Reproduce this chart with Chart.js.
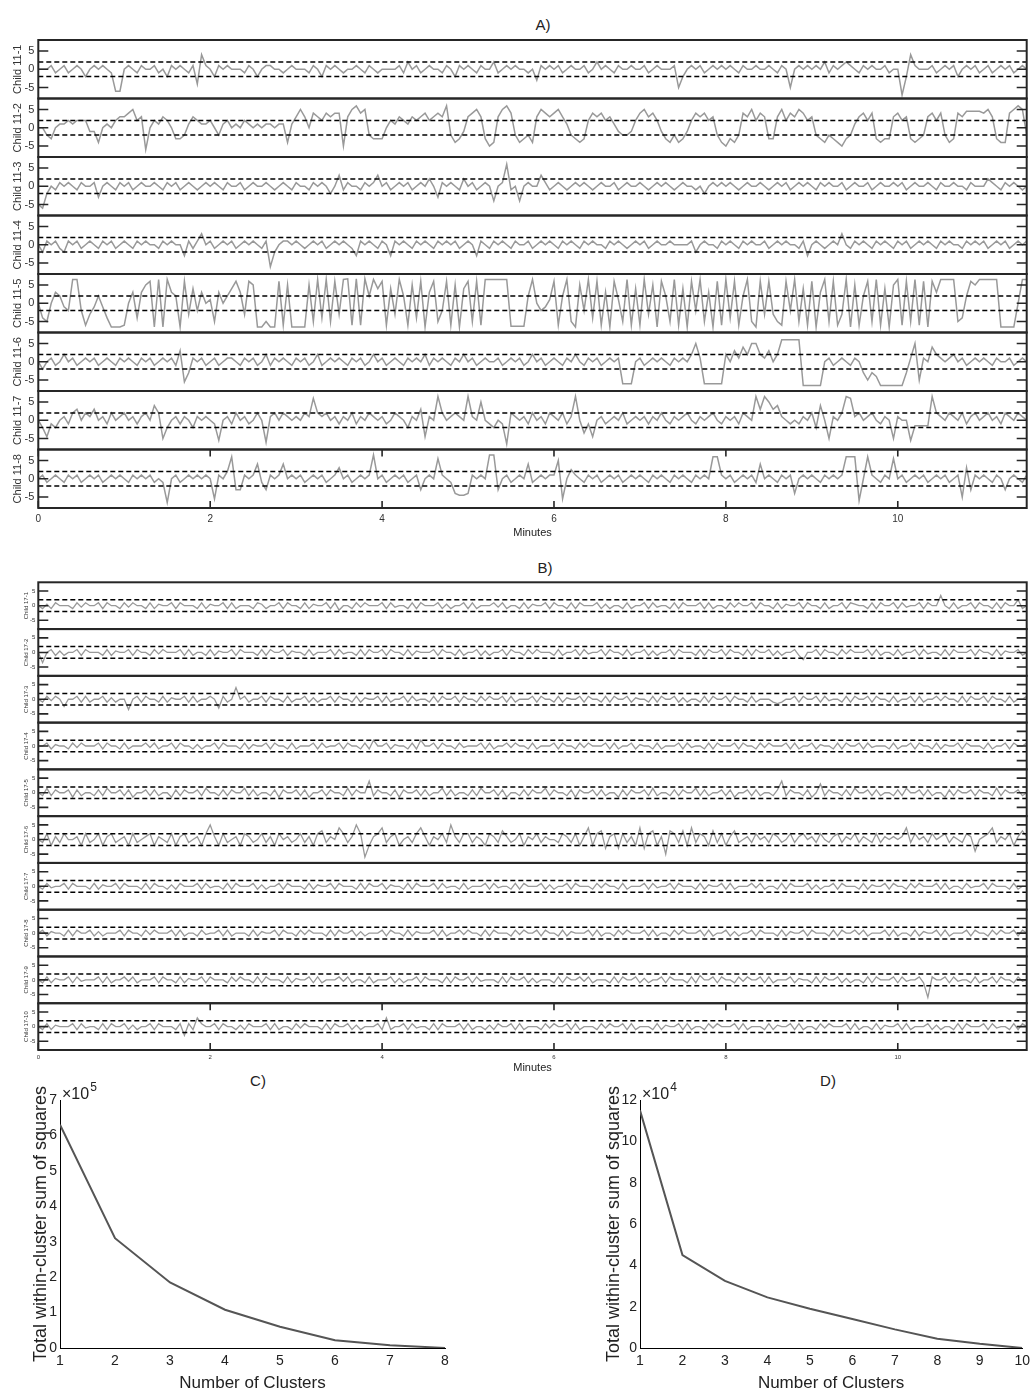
<!DOCTYPE html>
<html>
<head>
<meta charset="utf-8">
<script src="https://cdn.jsdelivr.net/npm/chart.js@4.4.1/dist/chart.umd.min.js"></script>
<style>
  body { margin: 0; background: #fff; }
  #page { position: relative; width: 1035px; height: 1388px; overflow: hidden; background: #fff; }
  #page canvas { position: absolute; }
  .ptitle { position: absolute; font: 15px "Liberation Sans", Arial, sans-serif; color: #222;
            transform: translate(-50%, -50%); white-space: nowrap; }
</style>
</head>
<body>
<div id="page">
  <div class="ptitle" style="left:543px;top:24px">A)</div>
  <div class="ptitle" style="left:545px;top:567px">B)</div>
  <div class="ptitle" style="left:258px;top:1080px">C)</div>
  <div class="ptitle" style="left:828px;top:1080px">D)</div>
</div>
<script>
// ---------- data ----------
const minutesMax = 11.5;
const xTicks = [0, 2, 4, 6, 8, 10];
const yTicks = [-5, 0, 5];
const thresholds = [2, -2];

const labelsA = ['Child 11-1', 'Child 11-2', 'Child 11-3', 'Child 11-4',
                 'Child 11-5', 'Child 11-6', 'Child 11-7', 'Child 11-8'];
const labelsB = ['Child 17-1', 'Child 17-2', 'Child 17-3', 'Child 17-4', 'Child 17-5',
                 'Child 17-6', 'Child 17-7', 'Child 17-8', 'Child 17-9', 'Child 17-10'];

// panel A: one value every 0.05 min
const child11_1 = [
  0,0,0,1,-1,0,1,-1,0,1,0,-2,0,1,0,1,0,-1,-6,-6,
  0,1,0,-1,1,0,0,1,-1,0,-2,1,0,1,0,-1,1,-4,4,1,
  0,-2,1,0,1,0,0,0,-1,1,0,-2,0,1,1,0,0,-1,0,1,
  0,0,0,-1,1,0,-2,1,0,1,0,-1,0,0,1,0,-1,1,0,-1,
  0,0,0,0,1,-1,2,0,1,-1,0,1,0,0,-1,1,0,-2,1,0,
  1,0,-1,1,0,0,2,-1,0,1,0,1,0,0,-1,0,-3,1,0,1,
  0,1,-1,0,1,0,0,1,-1,0,2,0,1,0,-1,1,0,0,1,0,
  0,1,-1,0,1,0,0,0,1,-5,-2,0,1,0,1,-1,0,1,0,1,
  0,1,0,-1,1,0,0,1,0,0,1,0,-1,1,0,-5,0,1,0,1,
  0,1,0,2,-1,1,0,1,2,1,0,-1,1,0,1,0,0,1,-1,0,
  0,-7,-2,4,1,0,0,0,1,-1,0,1,0,1,-2,0,1,0,1,-1,
  0,1,-1,0,1,0,1,-1,0,1,0];
const child11_2 = [
  0,0,-2,-3,0,1,1,2,1,2,2,2,-1,-1,-4,0,1,0,2,3,
  3,4,5,2,3,-6,0,2,1,3,2,0,-3,-3,-2,1,3,2,1,1,
  2,0,-2,1,2,0,1,0,2,1,0,1,0,1,1,0,1,1,-4,1,
  3,5,3,0,4,3,2,4,3,4,4,-5,3,5,6,4,5,-2,-3,-3,
  -3,0,2,1,3,2,1,3,2,3,4,2,3,4,3,6,-2,-4,-3,-1,
  3,4,5,3,-3,-5,-4,3,5,6,4,-2,-4,-3,-2,-4,3,5,4,3,
  4,5,3,1,-2,-3,-4,-3,2,4,3,4,2,3,1,-1,-2,-2,-1,2,
  4,5,3,4,2,-1,-3,-4,-2,-4,-3,-1,2,4,3,4,2,3,-2,-4,
  -5,-3,-4,-2,4,3,5,2,4,3,-3,-3,3,5,2,4,3,5,4,2,
  3,-2,-3,-4,-2,-3,-4,-5,-3,-2,1,3,4,2,4,-3,-4,-3,-3,3,
  4,2,3,-3,-4,-3,-2,3,4,2,4,-2,-4,-3,4,3,4.5,4.5,4.5,4.5,
  4,5,3,-3,-4,-4,4,5,6,5,-2];
const child11_3 = [
  -5,-6,-2,0,-1,1,0,1,0,-1,1,0,0,1,-3,0,1,0,-1,1,
  0,1,-1,0,1,0,0,1,0,-1,1,0,1,-1,0,1,0,-1,0,1,
  0,1,0,-1,1,0,0,1,-1,0,1,0,0,1,0,-1,0,1,0,-1,
  1,0,0,-1,1,0,1,0,-2,0,3,-1,1,0,0,-1,1,0,1,3,
  0,1,-1,0,1,0,1,-1,0,1,0,2,0,-3,1,0,1,0,-1,2,
  0,1,-1,0,1,0,-4,0,1,6,-1,0,-4,0,1,0,0,3,1,-1,
  0,1,0,-1,0,1,0,1,0,-1,0,1,0,0,1,-1,0,1,0,0,
  1,0,-1,0,1,0,1,0,-1,0,1,0,0,-1,0,-2,0,1,0,1,
  0,1,0,-1,0,1,0,0,1,0,-1,0,1,0,1,-1,0,1,0,1,
  0,-1,1,0,1,0,0,1,-1,0,1,0,0,1,-1,0,1,0,0,1,
  0,1,-1,0,1,0,0,1,0,-1,1,0,0,1,0,0,-1,1,0,0,
  0,2,1,0,-1,1,0,1,0,-1,0];
const child11_4 = [
  0,-2,1,0,1,-1,-2,1,0,1,-1,0,1,0,-1,1,0,1,-1,0,
  1,0,-1,1,0,1,0,0,-1,1,0,1,0,0,-3,1,-1,1,3,0,
  1,-1,0,1,0,1,-1,0,1,0,1,0,-1,1,-6,-2,0,1,1,0,
  1,0,-1,0,1,0,1,-1,0,1,0,1,0,-1,-3,1,0,1,0,-1,
  1,0,-3,1,0,1,0,-1,1,0,1,0,-1,1,0,1,0,1,-1,0,
  1,0,-3,1,0,-1,1,0,1,0,-1,1,0,0,1,-1,0,1,0,1,
  0,-1,1,0,1,0,-1,1,0,1,0,0,-1,1,0,1,0,-1,0,1,
  0,1,-1,0,1,0,0,1,0,0,0,0,1,-2,0,1,0,0,-1,1,
  0,1,0,-1,1,0,1,0,0,1,-1,0,1,0,1,0,0,-1,1,-3,
  0,1,0,-1,0,1,0,3,0,-1,1,0,1,0,-1,1,0,1,0,-1,
  1,0,1,-1,0,1,0,1,0,-1,1,0,1,0,0,-1,1,0,1,0,
  1,-1,0,1,0,1,-1,0,1,0,1];
const child11_5 = [
  0,-4,-5,0,3,2,-1,-2,6.5,6.5,-2,-6,-3,-1,2,-1,-4,-6.5,-6.5,-6.5,
  -6,0,3,-4,3,5,6,-6.5,6.5,-6.5,6.5,3,2,-6.5,6,-3,4,-2,3,0,
  1,-5,3,0,2,4,6,3,-3,6,5,-6.5,-6.5,-5,-6.5,-6.5,6,-6,5,-6.5,
  -6.5,-6.5,-6.5,5,-5,6.5,-4,6.5,-5,6,-3,6.5,6.7,-6,6.7,-6,6.7,2,6.5,4,
  6,-6,4,-3,6.5,2,-6,5,-4,6,-6.5,3,6,-5,-2,6,-6,5,-6.5,4,
  6,-5,6,-6,6.5,6.5,6.5,6.5,6.5,6.5,-6.3,-6.3,-6.3,-6.3,2,6.5,0,-2,-1,1,
  6,-6,2,6.5,-5,-6.5,5,-2,6.5,-4,6,-6,3,-6.5,6,1,-5,6.5,-6,4,
  -6,6.5,-3,5,-6.5,6,2,-5,6.5,-6,4,-6.5,6,-2,6.5,-5,3,-6.5,6,-6,
  6.5,-4,6,-6,2,6.5,-5,-6.5,6,-3,6,-3,-5,-6,6,-2,6.5,-5,4,-6,
  6,-6.5,3,6.5,-5,6,-6,-3,6.5,-6.5,5,-6,2,6,-5,6.5,-6,4,-6.5,5,
  6.5,-6,6,-5,6.5,-6,6,-6.5,6,3,6.5,6.5,6.5,6.5,-5,-4,2,6,5,6.5,
  6.5,6.5,6.5,6.5,-6.5,-6.5,-6.5,-6.5,0,6.5,6.5];
const child11_6 = [
  0,-2,0,1,-1,0,2,0,1,-1,0,1,0,1,-1,0,1,0,-1,1,
  0,1,0,-1,1,0,1,-1,0,1,0,1,-1,3,-5.5,-3,1,0,1,-1,
  0,1,-1,0,1,1,0,-1,1,0,1,-1,0,2,-1,1,0,1,0,-1,
  1,0,1,-1,0,2,-1,0,1,0,1,0,-1,1,0,1,-1,0,2,0,
  1,-1,0,1,0,-1,1,0,1,0,2,-1,1,0,1,0,-1,1,0,2,
  0,1,-1,0,1,0,0,1,-1,0,1,0,1,-1,0,2,0,1,-1,0,
  1,0,-1,1,0,2,0,-1,1,0,1,-1,0,1,0,1,-6,-6,-6,0,
  1,-1,0,1,0,1,0,-1,1,0,1,0,2,5,1,-6,-6,-6,-6,-6,
  2,0,3,1,4,2,5,5,2,1,3,0,2,6,6,6,6,6,-6.5,-6.5,
  -6.5,-6.5,-6.5,0,1,-1,0,1,0,-1,1,0,-3,-5,-3,-4,-6.5,-6.5,-6.5,-6.5,
  -6.5,-6.5,-3,1,5,-5,1,0,4,2,1,0,1,2,0,1,-1,0,1,0,
  1,0,-1,1,0,0,1,-1,0,1,0];
const child11_7 = [
  0,-2,-4.5,-1,-2,0,1,-1,2,3,0,2,1,3,0,1,-1,2,0,1,
  2,0,1,-1,1,2,0,4,2,-5,-2,0,1,-1,1,0,-2,1,0,1,
  0,-1,-5.5,0,1,-1,2,0,1,-1,0,2,0,-6,1,2,0,2,1,0,
  1,0,2,1,6,2,1,2,0,1,-1,1,0,2,-1,1,0,2,1,0,
  1,-1,0,2,1,0,-2,1,0,3,-4.5,1,0,6.5,2,0,1,2,1,0,
  6.5,1,0,5,0,-1,-2,0,-1,-6.5,2,1,0,1,-1,2,0,1,-1,2,
  1,0,2,-1,1,6.5,0,-3.5,-1,-4.5,0,1,-1,0,1,0,2,-1,0,1,
  0,1,-1,1,0,2,0,-1,1,0,1,2,0,-1,1,0,1,2,0,-1,
  1,0,1,-1,2,1,0,6.5,3,6.5,5,3,4,1,0,-1,0,-1,1,0,
  2,-2,4,0,-5,1,0,2,6.5,6,1,2,0,1,2,0,-1,1,0,-5,
  1,0,0,-5.5,-1.5,-1.5,-1.5,-1.5,6.5,2,1,0,2,1,0,2,-1,1,2,0,
  1,2,0,1,-1,2,1,0,2,1,0];
const child11_8 = [
  0,1,-1,0,1,0,-1,1,0,1,-1,0,1,0,1,-1,0,1,0,1,
  0,-1,1,0,1,0,1,-1,0,-1,-6.5,0,1,-1,0,1,0,1,0,1,
  0,-5.5,1,0,2,6,-3,-3,1,0,1,4,-1,-3,1,0,1,4,0,1,
  0,1,-1,0,1,0,1,-1,0,1,3,0,1,-1,0,1,0,1,6.5,0,
  1,-1,0,1,0,1,-1,0,1,-3,0,1,0,5.5,1,0,-1,-4,-4.5,-4.5,
  -4,1,0,1,0,6.5,6.5,-3,0,1,-1,0,1,0,4,-1,0,1,0,1,
  1,5,-5.5,0,2.5,1,0,-1,1,0,1,-1,0,1,0,1,-1,0,1,0,
  1,0,-1,1,0,1,0,-1,1,0,1,0,-1,1,0,1,0,6,6,1,
  0,1,-1,0,1,0,1,-1,4,0,1,0,-1,1,0,1,-4,0,1,0,
  1,0,-1,1,0,1,0,1,6,6,6,-6,0,6,1,0,-1,1,0,5.5,
  0,1,-1,0,1,0,1,-1,0,1,0,1,-1,0,1,-5,3,-3,1,0,
  1,0,-1,1,0,-3,0,1,0,-1,1];

// panel B: one value every 0.05 min
const child17_1 = [
  0,-1,0.5,-1,1,0,0,0,-1,1,-0.5,1,0,0,1,-1,1,0,0,-1,
  1,-0.5,1,0,0,-1,1,-1,0.5,0,0,1,-1,1,0,0,0,-1,1,-1,
  0.5,0,0,1,-1,1,-1,0,0,0,-1,1,0.5,-1,0,0,1,-1,1,0,
  0,-1,1,-1,0.5,0,0,1,-1,1,-1.5,0,0,-1,1,-0.5,1,0,0,0,
  1,-1,1,-0.5,0,0,-1,1,-1,1,0,0,0,1,-1,0.5,-1,0,0,1,
  -1,1,-1,0,0,0,1,-0.5,1,-1,0,0,-1,1,-1,0.5,0,0,1,-1,
  1,0,0,-1,1,-1,1,0,0,0,1,-1,0.5,-1,0,0,-1,1,-1,0,
  0,1,-1,1,-0.5,0,0,-1,1,-1,1,0,0,0,1,-1,1,-1,0,0,
  -1,1,-0.5,1,0,0,1,-1,1,0,0,-1,1,-1,0.5,0,0,1,-1,1,
  0,0,-1,1,-1,0,0,1,-1,1,0.5,0,0,-1,1,-1,1,0,0,1,
  -1,1,-0.5,0,0,1,-1,1,0,0,3.5,0,-1,1,-1,0,0,1,-1,1,
  0,0,-1,1,-1,1,0,0,2,-1,0];
const child17_2 = [
  0,-3.5,0,1,-1,0.5,-1,0,0,1,-1,1,0,0,0,-1,1,-1,0.5,0,
  0,1,-1,1,0,0,-1,1,-0.5,1,0,0,0,1,-1,1,-1,0,0,-1,
  1,-1,0.5,0,0,1,-1,1,0,0,0,-1,1,-1,1,0,0,1,-1,0.5,
  0,0,-1,1,-1,0,0,0,1,-1,1,-0.5,0,0,-1,1,-1,1,0,0,
  1,-1,1,0,0,-1,1,-1,0.5,0,0,0,1,-1,1,0,0,-1,1,-1,
  0,0,1,-1,0.5,-1,0,0,1,-1,1,0,0,-1,1,-0.5,1,0,0,0,
  -1,1,-1,0,0,1,-1,1,-0.5,0,0,1,-1,1,0,0,-1,1,-1,0,
  0,1,-1,0.5,-1,0,0,1,-1,1,0,0,0,-1,1,-1,1,0,0,1,
  -1,1,0,0,-1,1,-1,1,0,0,1,-1,0.5,-1,0,0,1,-1,-2.5,0,
  0,1,-1,1,0,0,-1,1,-0.5,1,0,0,0,1,-1,1,-1,0,0,-1,
  1,-1,0,0,1,-1,1,-0.5,0,0,-1,1,-1,1,0,0,0,1,-1,1,
  0,0,-1,1,-1,0.5,0,0,1,-1,0];
const child17_3 = [
  0,-1,1,-0.5,1,0,-2.5,0,0,1,-1,1,-1,0,0,1,-1,0.5,-1,0,
  0,-3.5,0,1,-1,1,0,0,-1,1,-1,0.5,0,0,1,-1,1,-1,0,0,
  1,0,-3,1,-1,0,4,0,1,-1,0,0,1,-1,1,0,0,-1,1,-1,
  0,0,1,-1,0.5,-1,0,0,1,-1,1,0,0,-1,1,-1,0.5,0,0,1,
  -1,1,-1,0,0,1,-1,1,-0.5,0,0,-1,1,-1,1,0,0,1,-1,1,
  0,0,-1,1,-0.5,1,0,0,1,-1,1,-1,0,0,0,1,-1,1,0,0,
  -1,1,-1,0.5,0,0,1,-1,1,0,0,-1,1,-1,1,0,0,1,-1,0.5,
  0,0,-1,1,-1,1,0,0,1,-1,0.5,-1,0,0,-1,1,-1,1,0,0,
  1,-1,1,0,0,-1,1,-1,0,0,0,-1,-1.5,-1,0,0,1,-1,1,0,
  0,1,-1,1,-0.5,0,0,-1,1,-1,1,0,0,1,-1,1,0,0,-1,1,
  -1,0,0,1,-1,1,-1,0,0,1,-0.5,1,0,0,-1,1,-1,1,0,0,
  1,-1,1,0,0,-1,1,-1,0,0,1];
const child17_4 = [
  0,0,1,-1,0.5,0,0,-1,1,-0.5,1,0,0,0,1,-1,1,0,0,-1,
  1,-1,0,0,0,1,-0.5,1,-1,0,0,1,-1,1,0,0,-1,0.5,-1,0,
  0,1,-1,1,0,0,0,-1,1,-1,0.5,0,0,1,-1,1,0,0,-1,1,
  -1,0,0,0,1,-1,1,-0.5,0,0,1,-1,1,0,0,-1,1,-1,2,0,
  0,1,-1,0.5,0,0,-1,1,-1,2,0,0,1,-1,1,0,0,-1,1,-0.5,
  0,0,0,1,-1,1,-1,0,0,1,-0.5,1,0,0,-1,1,-1,0,0,0,
  1,-1,1,0,0,-1,1,-0.5,1,0,0,0,1,-1,1,-1,0,0,1,-1,
  0.5,0,0,-1,1,-1,0,0,0,1,-1,1,-0.5,0,0,-1,1,-1,1,0,
  0,0,1,-1,1,0,0,-1,1,-0.5,1,0,0,0,1,-1,1,-1,0,0,
  1,-1,0.5,0,0,-1,1,-1,1,0,0,1,-1,1,-0.5,0,0,0,-1,1,
  -1,0,0,1,-1,1,0,0,-1,1,-1,0.5,0,0,1,-1,1,0,0,0,
  -1,1,-1,0,0,1,-1,1,0,0,1];
const child17_5 = [
  0,-1,1.5,-1,1,0,0,1,-1.5,1,-1,0,0,-1,1,-1,1.5,0,0,1,
  -1,1,-1.5,0,0,1,-1,1,-1,0,0,-1.5,1,-1,1,0,0,1,-1,1.5,
  0,0,-1,1,-1,1,0,0,1.5,-1,1,-1,0,0,-1,1,-1.5,1,0,0,
  1,-1,1,-1.5,0,0,1,-1,1,0,0,-1,1.5,-1,1,0,0,4,-1,1,
  0,0,-1,1,-1.5,1,0,0,1,-1,1,-1,0,0,1.5,-1,1,-1,0,0,
  -1,1,-1,1.5,0,0,1,-1,1,-1.5,0,0,-1,1,-1,1,0,0,1.5,-1,
  1,0,0,-1,1,-1.5,1,0,0,1,-1,1,-1,0,0,-1.5,1,-1,1,0,
  0,1,-1,1.5,-1,0,0,-1,1,-1,1,0,0,1.5,-1,1,-1,0,0,1,
  -1,1,-1.5,0,0,1,-1,1,-1,0,0,-1,1,4,-1,1,0,0,-1,1,
  -1.5,0,3,-1,1,0,0,-1,1,-1,1.5,0,0,1,-1,1,-1,0,0,-1,
  1,-1,1.5,0,0,1,-1,1,-1,0,0,-1.5,1,-1,1,0,0,1,-1,1,
  0,0,-1,1.5,-1,1,0,0,1,-1,0];
const child17_6 = [
  0,-1,2,-2,1,-1,2,0,0,1,-2,2,-1,0,2,-2,1,2,-1,0,
  1,-2,2,-1,0,1,2,-2,1,0,-1,2,-2,1,2,-1,0,1,-2,2,
  5,1,-2,2,-1,0,1,-2,2,1,-1,0,2,-1,1,-2,2,0,1,-1,
  0,2,-1,1,-2,2,3,-1,1,0,4,2,-1,1,5,2,-6,-2,1,2,
  4,-1,1,2,-2,0,1,-1,2,4,1,-2,1,0,2,-1,5,1,-1,2,
  2,-1,1,0,-2,2,1,-1,3,1,-1,0,2,-2,1,0,2,-1,1,0,
  0,-1,2,1,-1,2,-2,1,4,-2,2,3,-3,1,2,-3,2,-1,1,-2,
  4,-3,2,3,-2,1,-5,3,2,-1,3,-2,4,-1,2,1,-2,3,-1,2,
  -2,1,3,-1,0,1,-1,2,0,1,-1,2,1,-1,0,2,-1,1,2,0,
  1,-1,2,0,-1,1,2,-1,1,0,2,-1,1,0,-1,2,-1,1,0,1,
  0,1,4,-1,2,0,1,-1,2,0,1,2,-1,1,0,-1,2,1,-4,0,
  1,2,4,-1,1,0,2,-2,1,3,1];
const child17_7 = [
  0,-1,1,-0.5,0,0,1,-1,1,0,0,0,-1,1,-1,0.5,0,0,1,-1,
  1,0,0,0,-1,1,-1,1,0,0,-1,0.5,-1,1,0,0,0,1,-1,1,
  -0.5,0,0,-1,1,-1,1,0,0,0,1,-1,0.5,-1,0,0,1,-1,1,0,
  0,0,-1,1,-1,0.5,0,0,1,-1,1,0,0,0,-1,1,-1,1,0,0,
  1,-1,0.5,0,0,-1,1,-1,1,0,0,0,1,-1,1,-0.5,0,0,-1,1,
  -1,0,0,0,1,-1,1,-0.5,0,0,-1,1,-1,1,0,0,0,1,-1,0.5,
  -1,0,0,1,-1,1,0,0,0,-1,1,-0.5,1,0,0,-1,1,-1,0,0,
  0,1,-1,1,-0.5,0,0,1,-1,1,0,0,0,-1,1,-1,0.5,0,0,1,
  -1,1,-1,0,0,0,1,-0.5,1,-1,0,0,-1,1,-1,1,0,0,0,1,
  -1,0.5,-1,0,0,1,-1,1,0,0,0,-1,1,-1,0.5,0,0,1,-1,1,
  0,0,-1,1,-0.5,1,0,0,0,1,-1,1,-1,0,0,-1,1,-0.5,0,0,
  1,-1,1,0,0,0,-1,1,-1,0,0];
const child17_8 = [
  0,1,-1,0.5,0,0,-1,1,-1,1,0,0,1,-1,0.5,-1,0,0,0,1,
  -1,1,0,0,-1,1,-0.5,1,0,0,0,1,-1,1,-1,0,0,-1,1,-0.5,
  0,0,1,-1,1,-1,0,0,0,-1,1,-1,0.5,0,0,1,-1,1,0,0,
  -1,1,-0.5,1,0,0,0,-1,1,-1,1,0,0,1,-1,0.5,-1,0,0,0,
  1,-1,1,0,0,-1,1,-1,0.5,0,0,0,1,-1,1,-1,0,0,1,-0.5,
  1,0,0,-1,1,-1,1,0,0,0,-1,1,-0.5,1,0,0,1,-1,1,0,
  0,-1,1,-1,0.5,0,0,0,1,-1,1,-1,0,0,-1,1,-0.5,1,0,0,
  0,1,-1,1,-1,0,0,-1,1,-0.5,1,0,0,0,1,-1,1,-1,0,0,
  1,-1,0.5,-1,0,0,1,-1,1,0,0,0,-1,1,-1,0.5,0,0,1,-1,
  1,0,0,0,-1,1,-1,1,0,0,1,-0.5,1,-1,0,0,0,1,-1,1,
  -1,0,0,-1,1,-1,0.5,0,0,1,-1,1,-1,0,0,0,1,-1,1,0,
  0,-1,1,-0.5,1,0,0,1,-1,1,0];
const child17_9 = [
  0,-1,1,-1,0.5,0,0,1,-1,1,-0.5,0,0,0,1,-1,1,-1,0,0,
  1,-0.5,1,-1,0,0,0,1,-1,1,0,0,-1,1,-1,0.5,0,0,1,-1,
  1,0,0,0,-1,1,-0.5,1,0,0,-1,1,-1,1,0,0,0,-1,1,-1,
  0.5,0,0,1,-1,1,-1,0,0,0,1,-0.5,1,-1,0,0,-1,1,-1,0,
  0,0,1,-1,0.5,-1,0,0,1,-1,1,0,0,0,-1,1,-1,1,0,0,
  1,-1,1,-0.5,0,0,0,-1,1,-1,1,0,0,1,-1,0.5,-1,0,0,0,
  -1,1,-1,1,0,0,1,-0.5,1,-1,0,0,0,-1,1,-1,1,0,0,1,
  -1,0.5,-1,0,0,1,-1,1,0,0,0,-1,1,-1,1.5,0,0,1,-1,1,
  0,0,-1,1,-0.5,1,0,0,1,-1,1,-1,0,0,0,1,-1,0.5,0,0,
  -1,1,-1,1,0,0,1,-1,0.5,-1,0,0,-1,1,-1,1,0,0,0,1,
  -1,1,-0.5,0,0,1,-1,-6,1,0,0,1,-1,1,-0.5,0,0,-1,1,-1,
  0,0,1,-1,1,0,0,-1,1,-0.5,0];
const child17_10 = [
  0,-1,1,-1,0.5,0,0,0,1,-1,1,-0.5,0,0,-1,1,-1,1,0,0,
  1,-1,0.5,-1,0,0,1,-1,1,0,0,0,-1,1,-3,1,-1,3,1,0,
  0,1,-1,1,0,0,-1,0.5,-1,1,0,0,0,1,-1,1,-1,0,0,-1,
  1,-0.5,1,0,0,0,-1,1,-1,1,0,0,1,-1,0.5,-1,0,0,0,1,
  -1,3,-1,0,0,1,-1,1,-0.5,0,0,-1,1,-1,1,0,0,0,1,-1,
  1,-1,0,0,-1,0.5,-1,1,0,0,1,-1,1,-1,0,0,0,-1,1,-0.5,
  1,0,0,1,-1,1,-1,0,0,0,-1,1,-0.5,1,0,0,1,-1,1,-1,
  0,0,0,-1,1,-1,0.5,0,0,1,-1,1,-1,0,0,-1,1,-0.5,1,0,
  0,0,1,-1,1,-1,0,0,0,-1,1,-1,0.5,0,0,1,-1,1,-1,0,
  0,-1,1,-0.5,1,0,0,0,1,-1,1,-1,0,0,-1,1,-1,0.5,0,0,
  1,-1,1,-1,0,0,0,1,-1,0.5,-1,0,0,-1,1,-1,1,0,0,0,
  1,-1,1,-0.5,0,0,-1,1,-1,1,0];

const seriesA = [child11_1, child11_2, child11_3, child11_4,
                 child11_5, child11_6, child11_7, child11_8];
const seriesB = [child17_1, child17_2, child17_3, child17_4, child17_5,
                 child17_6, child17_7, child17_8, child17_9, child17_10];

// panels C and D (elbow curves)
const clustersC = [1, 2, 3, 4, 5, 6, 7, 8];
const wcssC = [6.3, 3.1, 1.85, 1.08, 0.6, 0.22, 0.08, 0];          // x 10^5
const yTicksC = [0, 1, 2, 3, 4, 5, 6, 7];
const clustersD = [1, 2, 3, 4, 5, 6, 7, 8, 9, 10];
const wcssD = [11.5, 4.5, 3.25, 2.45, 1.9, 1.4, 0.9, 0.45, 0.2, 0]; // x 10^4
const yTicksD = [0, 2, 4, 6, 8, 10, 12];

// ---------- drawing ----------
Chart.defaults.font.family = '"Liberation Sans", Arial, sans-serif';
const page = document.getElementById('page');

function makeCanvas(left, top, w, h) {
  const c = document.createElement('canvas');
  c.width = w; c.height = h;
  c.style.left = left + 'px'; c.style.top = top + 'px';
  page.appendChild(c);
  return c;
}

// box round each strip plus the inward tick marks
const framePlugin = {
  id: 'frame',
  afterDraw(chart, args, o) {
    const {ctx, chartArea: a, scales} = chart;
    ctx.save();
    ctx.strokeStyle = '#262626';
    ctx.lineWidth = 1.6;
    ctx.beginPath();
    yTicks.forEach(v => {
      const y = scales.y.getPixelForValue(v);
      ctx.moveTo(a.left, y); ctx.lineTo(a.left + o.yLen, y);
      ctx.moveTo(a.right, y); ctx.lineTo(a.right - o.yLen, y);
    });
    if (o.xLen) {
      xTicks.forEach(v => {
        const x = scales.x.getPixelForValue(v);
        ctx.moveTo(x, a.top); ctx.lineTo(x, a.top + o.xLen);
        ctx.moveTo(x, a.bottom); ctx.lineTo(x, a.bottom - o.xLen);
      });
    }
    ctx.stroke();
    ctx.lineWidth = 2;
    ctx.strokeRect(a.left, a.top, a.right - a.left, a.bottom - a.top);
    ctx.restore();
  }
};

function addStrip(s) {
  const cTop = Math.floor(s.top) - 2;
  const cBottom = s.last ? s.axisBottom : Math.ceil(s.bottom) + 2;
  const canvas = makeCanvas(0, cTop, 1035, cBottom - cTop);
  const step = minutesMax / (s.values.length - 1);
  const points = s.values.map((v, i) => ({x: i * step, y: v}));
  const dashed = thresholds.map(t => ({
    data: [{x: 0, y: t}, {x: minutesMax, y: t}],
    borderColor: '#000', borderWidth: 1.5, borderDash: [5, 3], pointRadius: 0
  }));
  const xScale = {
    type: 'linear', min: 0, max: minutesMax, display: s.last,
    afterBuildTicks: ax => { ax.ticks = xTicks.map(v => ({value: v})); },
    grid: {display: false, drawTicks: false}, border: {display: false},
    ticks: {font: {size: s.xFont}, color: '#333', padding: s.xPad, maxRotation: 0},
    title: {display: true, text: 'Minutes', color: '#222', font: {size: 11},
            padding: {top: 0, bottom: s.titlePadBottom}}
  };
  if (s.last) xScale.afterFit = ax => { ax.height = cBottom - s.bottom; };
  new Chart(canvas, {
    type: 'line',
    data: {datasets: [...dashed, {
      data: points, borderColor: '#999', borderWidth: s.lw, pointRadius: 0
    }]},
    options: {
      responsive: false, animation: false, events: [],
      layout: {autoPadding: false,
               padding: {left: 0, right: 1035 - 1026.7,
                         top: s.top - cTop, bottom: s.last ? 0 : cBottom - s.bottom}},
      plugins: {legend: {display: false}, tooltip: {enabled: false},
                frame: {yLen: 10, xLen: s.last ? 7 : 0}},
      scales: {
        x: xScale,
        y: {
          min: -8, max: 8,
          afterBuildTicks: ax => { ax.ticks = yTicks.map(v => ({value: v})); },
          afterFit: ax => { ax.width = 38.3; ax.paddingTop = 0; ax.paddingBottom = 0; },
          grid: {display: false, drawTicks: false}, border: {display: false},
          ticks: {font: {size: s.yFont}, color: '#333', padding: s.yPad},
          title: {display: true, text: s.label, color: '#333', font: {size: s.yFont},
                  padding: {top: s.yTitlePad, bottom: 0}}
        }
      }
    },
    plugins: [framePlugin]
  });
}

// panel A
const topA = 40, rowA = 58.5;
seriesA.forEach((vals, i) => addStrip({
  values: vals, label: labelsA[i],
  top: topA + i * rowA, bottom: topA + (i + 1) * rowA,
  last: i === seriesA.length - 1, axisBottom: 550,
  lw: 1.5, xFont: 10, xPad: 5, titlePadBottom: 10.4,
  yFont: 11, yPad: 4, yTitlePad: 11.7
}));

// panel B
const topB = 582.3, rowB = 46.77;
seriesB.forEach((vals, i) => addStrip({
  values: vals, label: labelsB[i],
  top: topB + i * rowB, bottom: topB + (i + 1) * rowB,
  last: i === seriesB.length - 1, axisBottom: 1080,
  lw: 1.3, xFont: 6, xPad: 3.4, titlePadBottom: 5.4,
  yFont: 6, yPad: 3, yTitlePad: 23
}));

// scale factor label (x10^n) above the y axis
const exponentPlugin = {
  id: 'exponent',
  afterDraw(chart, args, o) {
    const {ctx, chartArea: a} = chart;
    ctx.save();
    ctx.fillStyle = '#222';
    ctx.textBaseline = 'alphabetic';
    ctx.font = '16px "Liberation Sans", Arial, sans-serif';
    ctx.fillText('\u00d710', a.left + 2, a.top - 1);
    const w = ctx.measureText('\u00d710').width;
    ctx.font = '12px "Liberation Sans", Arial, sans-serif';
    ctx.fillText(o.power, a.left + 3 + w, a.top - 9);
    ctx.restore();
  }
};

function addElbow(e) {
  const canvas = makeCanvas(e.left, 1070, e.width, 318);
  new Chart(canvas, {
    type: 'line',
    data: {datasets: [{
      data: e.clusters.map((c, i) => ({x: c, y: e.values[i]})),
      borderColor: '#555', borderWidth: 2, pointRadius: 0
    }]},
    options: {
      responsive: false, animation: false, events: [],
      layout: {autoPadding: false, padding: {left: 0, right: e.padRight, top: 30, bottom: 0}},
      plugins: {legend: {display: false}, tooltip: {enabled: false},
                exponent: {power: e.power}},
      scales: {
        x: {
          type: 'linear', min: e.clusters[0], max: e.clusters[e.clusters.length - 1],
          afterBuildTicks: ax => { ax.ticks = e.clusters.map(v => ({value: v})); },
          afterFit: ax => { ax.height = 40; },
          grid: {display: false, drawTicks: false},
          border: {display: true, color: '#000', width: 1},
          ticks: {font: {size: 14}, color: '#222', padding: 5, maxRotation: 0},
          title: {display: true, text: 'Number of Clusters', color: '#222',
                  font: {size: 17, lineHeight: 0.6}, padding: {top: 0, bottom: 0}}
        },
        y: {
          min: 0, max: e.yTicks[e.yTicks.length - 1],
          afterBuildTicks: ax => { ax.ticks = e.yTicks.map(v => ({value: v})); },
          afterFit: ax => { ax.width = 60; },
          grid: {display: false, drawTicks: false},
          border: {display: true, color: '#000', width: 1},
          ticks: {font: {size: 14}, color: '#222', padding: 3},
          title: {display: true, text: 'Total within-cluster sum of squares', color: '#222',
                  font: {size: 18}, padding: {top: e.titlePad, bottom: 0}}
        }
      }
    },
    plugins: [exponentPlugin]
  });
}

addElbow({left: 0, width: 460, padRight: 15, clusters: clustersC, values: wcssC,
          yTicks: yTicksC, power: '5', titlePad: 30});
addElbow({left: 580, width: 455, padRight: 10, clusters: clustersD, values: wcssD,
          yTicks: yTicksD, power: '4', titlePad: 23});
</script>
</body>
</html>
